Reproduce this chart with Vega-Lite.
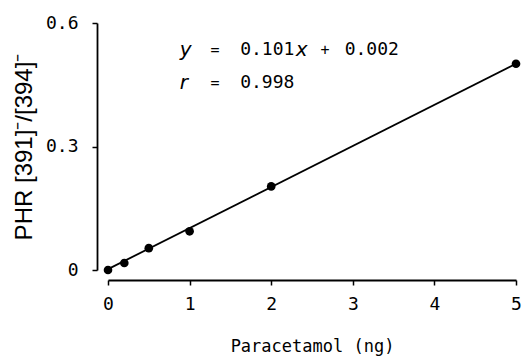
{
  "$schema": "https://vega.github.io/schema/vega-lite/v6.json",
  "width": 408,
  "height": 247,
  "autosize": "none",
  "padding": {"left": 108, "top": 23, "right": 8, "bottom": 92},
  "background": "white",
  "config": {"view": {"stroke": null}},
  "datasets": {
    "points": [
      {"x": 0, "y": 0.0},
      {"x": 0.2, "y": 0.017},
      {"x": 0.5, "y": 0.053},
      {"x": 1, "y": 0.094},
      {"x": 2, "y": 0.203},
      {"x": 5, "y": 0.501}
    ],
    "fit": [
      {"x": 0, "y": 0.002},
      {"x": 5, "y": 0.501}
    ],
    "labels": [
      {"x": 0.88, "y": 0.535, "t": "y", "italic": true, "align": "left"},
      {"x": 1.31, "y": 0.535, "t": "=", "italic": false, "align": "center"},
      {"x": 1.62, "y": 0.535, "t": "0.101", "italic": false, "align": "left"},
      {"x": 2.3, "y": 0.535, "t": "x", "italic": true, "align": "left"},
      {"x": 2.66, "y": 0.535, "t": "+", "italic": false, "align": "center"},
      {"x": 2.9, "y": 0.535, "t": "0.002", "italic": false, "align": "left"},
      {"x": 0.88, "y": 0.455, "t": "r", "italic": true, "align": "left"},
      {"x": 1.31, "y": 0.455, "t": "=", "italic": false, "align": "center"},
      {"x": 1.62, "y": 0.455, "t": "0.998", "italic": false, "align": "left"}
    ]
  },
  "layer": [
    {
      "data": {"name": "fit"},
      "mark": {"type": "line", "color": "black", "strokeWidth": 1.8},
      "encoding": {
        "x": {"field": "x", "type": "quantitative", "scale": {"domain": [0, 5], "nice": false},
          "axis": {"title": "Paracetamol  (ng)", "values": [0,1,2,3,4,5], "format": "d", "labelFlush": false, "offset": 10, "grid": false,
            "domainColor": "black", "domainWidth": 1.8, "tickColor": "black", "tickWidth": 1.5, "tickSize": 5,
            "labelFont": "DejaVu Sans Mono", "labelFontSize": 18, "labelColor": "black", "labelPadding": 10,
            "titleFont": "DejaVu Sans Mono", "titleFontSize": 17, "titleFontWeight": "normal", "titleColor": "black", "titlePadding": 25}},
        "y": {"field": "y", "type": "quantitative", "scale": {"domain": [0, 0.6], "nice": false},
          "axis": {"title": "PHR [391]⁻/[394]⁻", "values": [0, 0.3, 0.6], "labelFlush": false, "labelExpr": "datum.value == 0 ? '0' : format(datum.value, '.1f')", "offset": 11, "grid": false,
            "domainColor": "black", "domainWidth": 1.8, "tickColor": "black", "tickWidth": 1.5, "tickSize": 5,
            "labelFont": "DejaVu Sans Mono", "labelFontSize": 18, "labelColor": "black", "labelPadding": 14,
            "titleFont": "Liberation Sans", "titleFontSize": 24, "titleFontWeight": "normal", "titleColor": "black", "titlePadding": 9}}
      }
    },
    {
      "data": {"name": "points"},
      "mark": {"type": "point", "filled": true, "color": "black", "opacity": 1, "size": 75},
      "encoding": {
        "x": {"field": "x", "type": "quantitative"},
        "y": {"field": "y", "type": "quantitative"}
      }
    },
    {
      "data": {"name": "labels"},
      "transform": [{"filter": "datum.italic"}],
      "mark": {"type": "text", "font": "DejaVu Sans", "fontStyle": "italic", "fontSize": 20, "align": "left", "baseline": "middle", "color": "black"},
      "encoding": {
        "x": {"field": "x", "type": "quantitative"},
        "y": {"field": "y", "type": "quantitative"},
        "text": {"field": "t"}
      }
    },
    {
      "data": {"name": "labels"},
      "transform": [{"filter": "!datum.italic && datum.align == 'left'"}],
      "mark": {"type": "text", "font": "DejaVu Sans Mono", "fontSize": 18, "align": "left", "baseline": "middle", "color": "black"},
      "encoding": {
        "x": {"field": "x", "type": "quantitative"},
        "y": {"field": "y", "type": "quantitative"},
        "text": {"field": "t"}
      }
    },
    {
      "data": {"name": "labels"},
      "transform": [{"filter": "!datum.italic && datum.align == 'center'"}],
      "mark": {"type": "text", "font": "DejaVu Sans Mono", "fontSize": 15, "align": "center", "baseline": "middle", "color": "black"},
      "encoding": {
        "x": {"field": "x", "type": "quantitative"},
        "y": {"field": "y", "type": "quantitative"},
        "text": {"field": "t"}
      }
    }
  ]
}
